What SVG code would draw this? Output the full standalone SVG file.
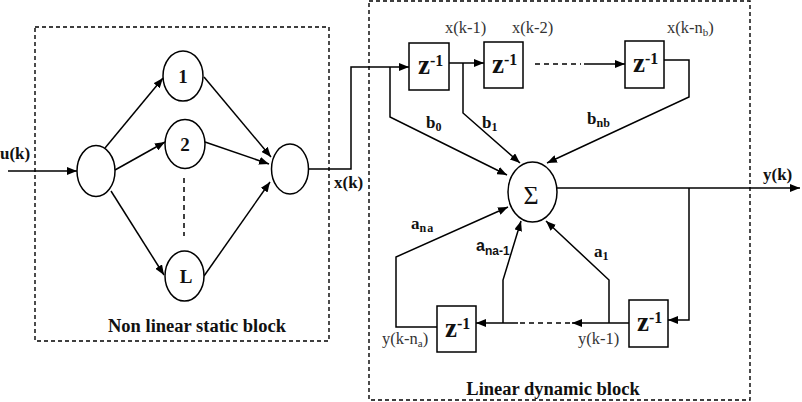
<svg xmlns="http://www.w3.org/2000/svg" width="802" height="402" viewBox="0 0 802 402">
<defs>
<marker id="ah" viewBox="0 0 10 8" refX="10" refY="4" markerWidth="10" markerHeight="8" orient="auto" markerUnits="userSpaceOnUse"><path d="M0,0 L10,4 L0,8 z" fill="#000"/></marker>
<style>
.blk{fill:none;stroke:#000;stroke-width:1.4;stroke-dasharray:4,3}
.nd{fill:#fff;stroke:#000;stroke-width:1.5}
.ar{fill:none;stroke:#000;stroke-width:1.5;marker-end:url(#ah)}
.dsh{fill:none;stroke:#000;stroke-width:1.5;stroke-dasharray:5,4}
.b{font-family:"Liberation Serif","Times New Roman",serif;font-weight:bold;fill:#111}
.r{font-family:"Liberation Serif","Times New Roman",serif;fill:#333;font-size:16.5px}
.z{font-family:"Liberation Serif","Times New Roman",serif;font-weight:bold;font-size:27px;fill:#111}
.sup{font-size:16px}
.s{font-family:"Liberation Sans",Arial,sans-serif;font-weight:bold;fill:#111}
</style>
</defs>
<rect class="blk" x="35" y="27" width="294" height="314"/>
<rect class="blk" x="369" y="1" width="381" height="399"/>
<g id="connectors">
<path class="ar" d="M8,171 H77"/>
<path class="ar" d="M105,148 L163,78"/>
<path class="ar" d="M115,170 L165,142"/>
<path class="ar" d="M111,191 L164,275"/>
<path class="ar" d="M204,77 L271,157"/>
<path class="ar" d="M205,142 L269,164"/>
<path class="ar" d="M204,276 L270,182"/>
<path class="dsh" d="M184,178 V236" stroke-dasharray="4,4"/>
<path class="ar" d="M309,169 H351 V67 H409"/>
<path class="ar" d="M390,67 V117 L507,175"/>
<path class="ar" d="M449,63 H484"/>
<path class="ar" d="M463,63 V113 L520,163"/>
<path class="dsh" d="M535,64 H581"/>
<path class="ar" d="M584,64 H625"/>
<path class="ar" d="M664,60 H689 V97 L547,163"/>
<path class="ar" d="M557,188 H800"/>
<path class="ar" d="M689,188 V320 H668"/>
<path class="ar" d="M629,323 H572"/>
<path class="dsh" d="M570,323 H518"/>
<path class="ar" d="M518,323 H476"/>
<path class="ar" d="M609,323 V280 L546,221"/>
<path class="ar" d="M503,323 V280 L521,221"/>
<path class="ar" d="M437,327 H396 V257 L508,207"/>
</g>
<g id="in"><ellipse class="nd" cx="96" cy="171" rx="19" ry="25.5"/></g>
<g id="n1"><ellipse class="nd" cx="183" cy="76" rx="20" ry="25"/><text class="b" x="183" y="83" font-size="19" text-anchor="middle">1</text></g>
<g id="n2"><ellipse class="nd" cx="185" cy="144" rx="20" ry="24.5"/><text class="b" x="185" y="151" font-size="19" text-anchor="middle">2</text></g>
<g id="nL"><ellipse class="nd" cx="184.5" cy="276" rx="19.5" ry="25"/><text class="b" x="186" y="283" font-size="19" text-anchor="middle">L</text></g>
<g id="out"><ellipse class="nd" cx="290" cy="169" rx="18.5" ry="25"/></g>
<g id="sum"><ellipse class="nd" cx="532.5" cy="192" rx="24.5" ry="30"/><text x="531" y="204" font-family="Liberation Serif,serif" font-size="26" text-anchor="middle" fill="#111">Σ</text></g>
<g id="zb1"><rect class="nd" x="409" y="43" width="40" height="47"/><text class="z" x="418" y="74">z<tspan class="sup" dy="-8">-1</tspan></text></g>
<g id="zb2"><rect class="nd" x="484" y="42" width="39" height="46"/><text class="z" x="492" y="73">z<tspan class="sup" dy="-8">-1</tspan></text></g>
<g id="zb3"><rect class="nd" x="625" y="41" width="39" height="47"/><text class="z" x="633" y="72">z<tspan class="sup" dy="-8">-1</tspan></text></g>
<g id="za1"><rect class="nd" x="629" y="300" width="39" height="47"/><text class="z" x="637" y="331">z<tspan class="sup" dy="-8">-1</tspan></text></g>
<g id="zana"><rect class="nd" x="437" y="306" width="39" height="46"/><text class="z" x="445" y="337">z<tspan class="sup" dy="-8">-1</tspan></text></g>
<g id="labels">
<text class="b" x="0" y="159" font-size="17">u(k)</text>
<text class="b" x="334" y="188" font-size="17">x(k)</text>
<text class="b" x="763" y="180" font-size="17">y(k)</text>
<text class="b" x="426" y="128" font-size="17">b<tspan font-size="12" dy="3">0</tspan></text>
<text class="b" x="482" y="128" font-size="17">b<tspan font-size="12" dy="3">1</tspan></text>
<text class="b" x="587" y="124" font-size="17">b<tspan font-size="12" dy="3">nb</tspan></text>
<text class="b" x="411" y="229" font-size="17">a<tspan font-size="12" dy="3" letter-spacing="1">na</tspan></text>
<text class="s" x="476" y="251" font-size="16">a<tspan font-size="12" dy="4">na-1</tspan></text>
<text class="b" x="594" y="257" font-size="17">a<tspan font-size="12" dy="3">1</tspan></text>
<text class="r" x="445" y="33">x(k-1)</text>
<text class="r" x="512" y="33">x(k-2)</text>
<text class="r" x="667" y="33">x(k-n<tspan font-size="11" dy="3">b</tspan><tspan dy="-3">)</tspan></text>
<text class="r" x="382" y="344">y(k-n<tspan font-size="11" dy="3">a</tspan><tspan dy="-3">)</tspan></text>
<text class="r" x="578" y="344">y(k-1)</text>
<text class="b" x="197" y="332" font-size="18.5" text-anchor="middle">Non linear static block</text>
<text class="b" x="553" y="395" font-size="18.5" text-anchor="middle">Linear dynamic block</text>
</g>
</svg>
